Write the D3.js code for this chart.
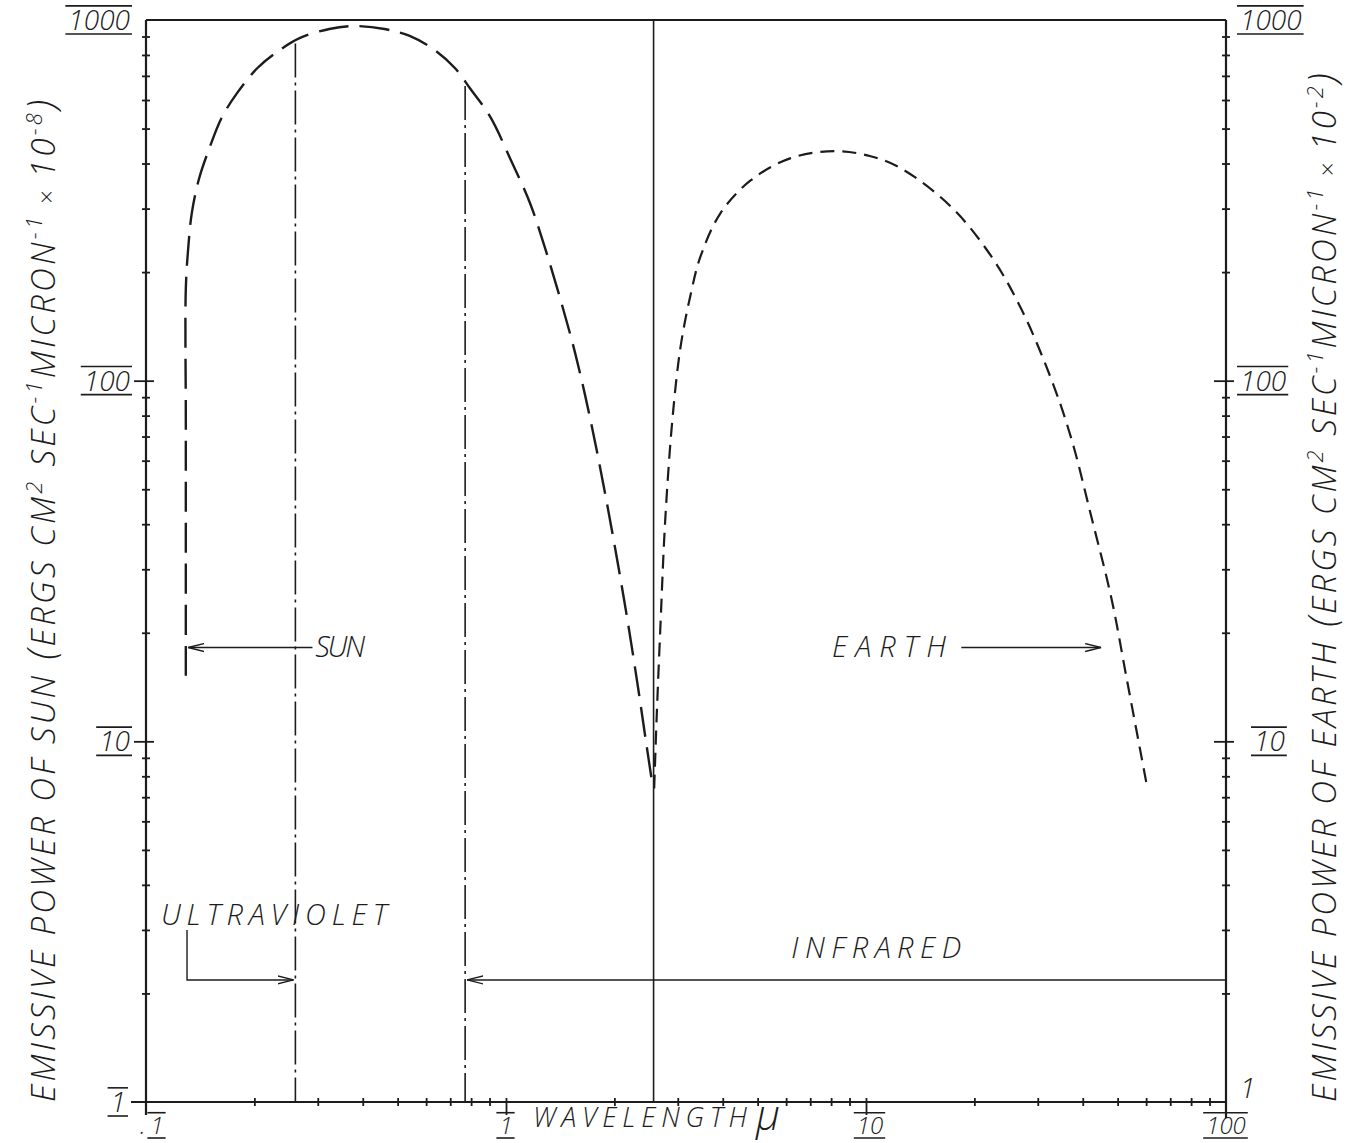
<!DOCTYPE html>
<html>
<head>
<script src="https://d3js.org/d3.v7.min.js"></script>
<style>
  body { margin: 0; background: #fff; }
  text { font-family: "Open Sans", sans-serif; font-style: italic; font-weight: 300; fill: #1c1c1c; }
  .ax { stroke: #1c1c1c; stroke-width: 2.2px; fill: none; }
  .tk line { stroke: #1c1c1c; stroke-width: 1.8px; }
</style>
</head>
<body>
<svg id="chart" width="1352" height="1143"></svg>
<script>
// Sun emission curve: wavelength (micron) and power (x10^-8)
var sunWave  = [0.129, 0.129, 0.129, 0.129, 0.131, 0.134, 0.1405, 0.150, 0.162, 0.179, 0.204, 0.235, 0.267, 0.323, 0.380, 0.460, 0.540, 0.634, 0.721, 0.794, 0.902, 1.026, 1.167, 1.284, 1.414, 1.557, 1.714, 1.863, 2.012, 2.173, 2.332, 2.455, 2.551];
var sunPower = [15.2, 32.0, 78.4, 180, 233, 291, 364, 441, 534, 627, 736, 825, 891, 944, 962, 944, 903, 825, 736, 647, 541, 414, 310, 233, 169, 119, 78.4, 51.7, 34.1, 21.8, 13.9, 9.8, 7.6];

// Earth emission curve: wavelength (micron) and power (x10^-2)
var earthWave  = [2.58, 2.62, 2.69, 2.77, 2.90, 3.05, 3.26, 3.47, 3.94, 4.78, 6.18, 8.25, 10.3, 12.5, 17.2, 22.3, 27.0, 32.7, 37.2, 42.4, 48.1, 53.0, 60.2];
var earthPower = [7.4, 11.5, 21.8, 41.4, 78.4, 123, 174, 221, 291, 359, 414, 433, 419, 388, 304, 221, 158, 101, 69, 41.4, 24.8, 14.9, 7.6];

// dash-dot band limits (ultraviolet / infrared) and where they meet the sun curve
var bandWave = [0.26, 0.77];
var bandTop  = [860, 656];
// solid divider between the two curves
var dividerWave = 2.57;

var xTickValues = [0.1, 1, 10, 100];
var xTickLabels = [".1", "1", "10", "100"];
var yTickValues = [1, 10, 100, 1000];
var yTickLabels = ["1", "10", "100", "1000"];

var svg = d3.select("#chart");

var x = d3.scaleLog().domain([0.1, 100]).range([146, 1226]);
var y = d3.scaleLog().domain([1, 1000]).range([1102, 20]);

var x0 = x.range()[0], x1 = x.range()[1];
var yB = y.range()[0], yT = y.range()[1];

// frame lines
svg.append("line").attr("class", "ax").attr("x1", x0).attr("x2", x1).attr("y1", yT).attr("y2", yT);
svg.append("line").attr("class", "ax").attr("x1", x0).attr("x2", x0).attr("y1", yT).attr("y2", yB + 13);
svg.append("line").attr("class", "ax").attr("x1", x1).attr("x2", x1).attr("y1", yT).attr("y2", yB + 16);
svg.append("line").attr("class", "ax").attr("x1", x0 - 15).attr("x2", x1).attr("y1", yB).attr("y2", yB);

// minor ticks cross the axis lines
var xMinor = x.ticks().filter(function(d) { return xTickValues.indexOf(d) < 0; });
var yMinor = y.ticks().filter(function(d) { return yTickValues.indexOf(d) < 0; });

var gx = svg.append("g").attr("class", "tk").attr("transform", "translate(0," + yB + ")")
  .call(d3.axisBottom(x).tickValues(xMinor).tickSize(4).tickFormat(""));
gx.select(".domain").remove();
gx.selectAll(".tick line").attr("y1", -4);

var gxm = svg.append("g").attr("class", "tk").attr("transform", "translate(0," + yB + ")")
  .call(d3.axisBottom(x).tickValues([1, 10]).tickSize(13).tickFormat(""));
gxm.select(".domain").remove();
gxm.selectAll(".tick line").attr("y1", -4);

[x0, x1].forEach(function(px) {
  var g = svg.append("g").attr("class", "tk").attr("transform", "translate(" + px + ",0)")
    .call(d3.axisLeft(y).tickValues(yMinor).tickSize(4).tickFormat(""));
  g.select(".domain").remove();
  g.selectAll(".tick line").attr("x1", 4);
  var gm = svg.append("g").attr("class", "tk").attr("transform", "translate(" + px + ",0)")
    .call(d3.axisLeft(y).tickValues([10, 100]).tickSize(12).tickFormat(""));
  gm.select(".domain").remove();
  gm.selectAll(".tick line").attr("x1", 8);
});

// numbers drawn with a bar above and below
function barred(px, py, str, anchor, size) {
  var t = svg.append("text").attr("x", px).attr("y", py)
    .attr("text-anchor", anchor).style("font-size", size + "px").text(str);
  var w = t.node().getComputedTextLength();
  var left = anchor === "end" ? px - w : anchor === "middle" ? px - w / 2 : px;
  var top = py - size * 0.72 - 4, bot = py + 4;
  [top, bot].forEach(function(ly) {
    svg.append("line").attr("x1", left - 3).attr("x2", left + w + 2).attr("y1", ly).attr("y2", ly)
      .style("stroke", "#1c1c1c").style("stroke-width", 1.6);
  });
}

// left tick labels
yTickValues.forEach(function(v, i) {
  barred(x0 - (i === 0 ? 20 : 16), y(v) + 10, yTickLabels[i], "end", 28);
});
// right tick labels
yTickValues.forEach(function(v, i) {
  if (i === 0) {
    svg.append("text").attr("x", x1 + 14).attr("y", y(v) - 4).style("font-size", "28px").text(yTickLabels[i]);
  } else {
    barred(x1 + (i === 1 ? 28 : 14), y(v) + 10, yTickLabels[i], "start", 28);
  }
});
// bottom tick labels
xTickValues.forEach(function(v, i) {
  if (i === 0) {
    svg.append("text").attr("x", x(v) - 6).attr("y", yB + 32).style("font-size", "24px").text(".");
    barred(x(v) + 11, yB + 32, "1", "middle", 24);
  } else {
    barred(x(v) + (i === 2 ? 4 : 0), yB + 32, xTickLabels[i], "middle", 24);
  }
});

// axis titles
svg.append("text").attr("x", 533).attr("y", yB + 25).style("font-size", "27px")
  .attr("textLength", 214).attr("lengthAdjust", "spacing").text("WAVELENGTH");
svg.append("text").attr("x", 756).attr("y", yB + 28).style("font-size", "42px").text("\u03bc");

function vLabel(px, str, size, spacing) {
  var t = svg.append("text")
    .attr("transform", "translate(" + px + "," + (yB) + ") rotate(-90)")
    .style("font-size", size + "px").style("letter-spacing", spacing + "px");
  t.append("tspan").text(str[0]);
  t.append("tspan").style("font-size", "38px").text(" (");
  t.append("tspan").text("ERGS CM");
  t.append("tspan").attr("dy", -13).style("font-size", "22px").text("2");
  t.append("tspan").attr("dy", 13).text(" SEC");
  t.append("tspan").attr("dy", -13).style("font-size", "22px").text("-1");
  t.append("tspan").attr("dy", 13).text("MICRON");
  t.append("tspan").attr("dy", -13).style("font-size", "22px").text("-1");
  t.append("tspan").attr("dy", 13).style("font-size", "24px").text(" \u00d7 ");
  t.append("tspan").text("10");
  t.append("tspan").attr("dy", -13).style("font-size", "22px").text(str[1]);
  t.append("tspan").attr("dy", 13).style("font-size", "38px").text(")");
}
vLabel(55, ["EMISSIVE  POWER  OF  SUN", "-8"], 33, 3.2);
vLabel(1336, ["EMISSIVE  POWER  OF  EARTH", "-2"], 33, 3.0);

// dividers
svg.append("line").attr("x1", x(dividerWave)).attr("x2", x(dividerWave)).attr("y1", yT).attr("y2", yB)
  .style("stroke", "#1c1c1c").style("stroke-width", 1.6);
bandWave.forEach(function(w, i) {
  svg.append("line").attr("x1", x(w)).attr("x2", x(w)).attr("y1", y(bandTop[i])).attr("y2", yB)
    .style("stroke", "#1c1c1c").style("stroke-width", 1.6).style("stroke-dasharray", "34,5,3,5");
});

// curves
var line = d3.line().curve(d3.curveCatmullRom.alpha(0.5))
  .x(function(d) { return x(d[0]); }).y(function(d) { return y(d[1]); });
svg.append("path").datum(d3.zip(sunWave, sunPower)).attr("d", line)
  .style("fill", "none").style("stroke", "#1c1c1c").style("stroke-width", 2.4)
  .style("stroke-dasharray", "30,11");
svg.append("path").datum(d3.zip(earthWave, earthPower)).attr("d", line)
  .style("fill", "none").style("stroke", "#1c1c1c").style("stroke-width", 2.2)
  .style("stroke-dasharray", "14,8");

// arrows
svg.append("defs").append("marker").attr("id", "ah").attr("viewBox", "0 0 16 10")
  .attr("refX", 16).attr("refY", 5).attr("markerWidth", 16).attr("markerHeight", 10)
  .attr("markerUnits", "userSpaceOnUse").attr("orient", "auto")
  .append("path").attr("d", "M0,1 L16,5 L0,9").style("fill", "none").style("stroke", "#1c1c1c").style("stroke-width", 1.4);

function arrow(pts) {
  svg.append("path").attr("d", d3.line()(pts.map(function(p) { return [x(p[0]), y(p[1])]; })))
    .style("fill", "none").style("stroke", "#1c1c1c").style("stroke-width", 1.4)
    .attr("marker-end", "url(#ah)");
}
arrow([[0.29, 18.2], [0.131, 18.2]]);
arrow([[18.4, 18.2], [45.0, 18.2]]);
arrow([[0.130, 3.0], [0.130, 2.18], [0.257, 2.18]]);
arrow([[100, 2.18], [0.78, 2.18]]);

// annotations
function note(wv, pw, str, len) {
  svg.append("text").attr("x", x(wv)).attr("y", y(pw)).style("font-size", "29px")
    .attr("textLength", len).attr("lengthAdjust", "spacing").text(str);
}
note(0.295, 17.1, "SUN", 50);
note(8.04, 17.1, "EARTH", 114);
note(0.110, 3.1, "ULTRAVIOLET", 226);
note(6.2, 2.5, "INFRARED", 170);
</script>
</body>
</html>
